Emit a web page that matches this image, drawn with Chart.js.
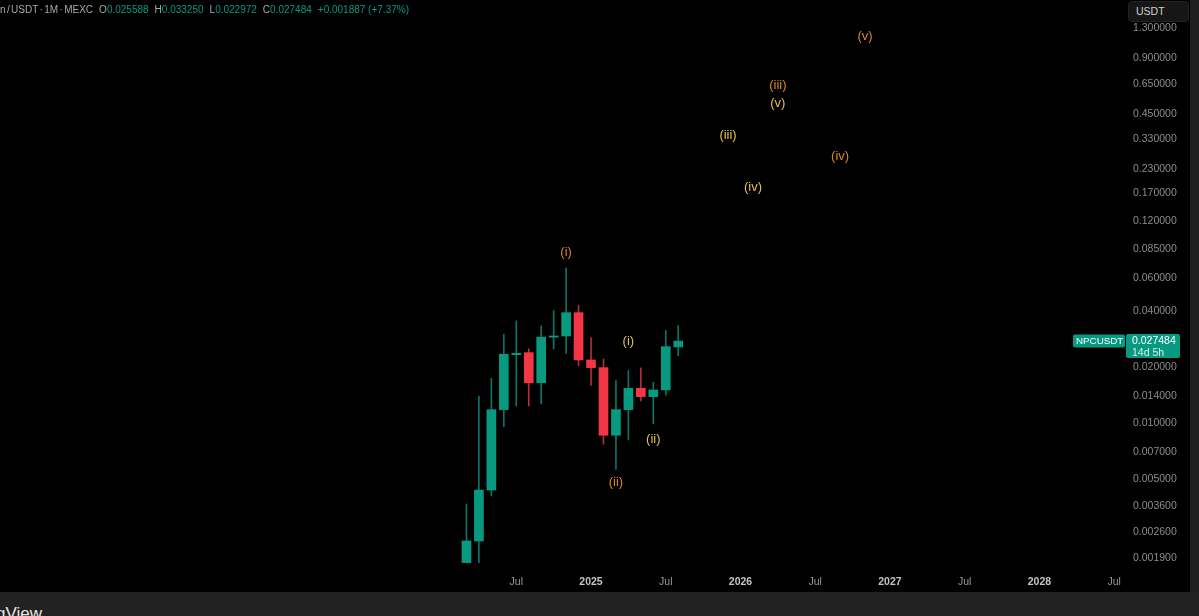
<!DOCTYPE html>
<html>
<head>
<meta charset="utf-8">
<style>
  html, body { margin: 0; padding: 0; background: #000; overflow: hidden; }
  body { width: 1199px; height: 616px; position: relative; font-family: "Liberation Sans", sans-serif; }
  #wrap { position: absolute; left: 0; top: 0; width: 1190px; height: 592px; }
  #side { position: absolute; left: 1190px; top: 0; width: 9px; height: 616px; background: #1e1e1e; }
  #foot { position: absolute; left: 0; top: 592px; width: 1199px; height: 24px; background: #222; overflow: hidden; }
  #brand { position: absolute; right: 1157px; top: 12px; font-size: 17px; font-weight: 400; color: #e6e6e6; white-space: nowrap; line-height: 20px; }
  #head { position: absolute; left: 0; top: 3px; font-size: 10px; line-height: 13px; color: #a8a8a8; white-space: nowrap; }
  #head span { word-spacing: -1.4px; }
  #head b { font-weight: 400; color: #089981; }
  #head i { font-style: normal; margin-left: 6px; }
  #unit { position: absolute; left: 1128px; top: 1px; width: 52px; height: 19px; padding-left: 7px; background: #161616; border: 1px solid #222; border-radius: 4px; font-size: 10.5px; line-height: 19px; color: #d0d0d0; }
</style>
</head>
<body>
<div id="wrap"><canvas id="priceChart"></canvas></div>
<div id="side"></div>
<div id="foot"><span id="brand">TradingView</span></div>
<div id="head"><span>n / USDT · 1M · MEXC</span><i>O<b>0.025588</b></i><i>H<b>0.033250</b></i><i>L<b>0.022972</b></i><i>C<b>0.027484</b></i><i><b>+0.001887 (+7.37%)</b></i></div>
<div id="unit">USDT</div>
<script src="https://cdn.jsdelivr.net/npm/chart.js@4/dist/chart.umd.min.js"></script>
<script>
// months counted from Jan 2024 = 0
const months = [2, 3, 4, 5, 6, 7, 8, 9, 10, 11, 12, 13, 14, 15, 16, 17, 18, 19];
const opens = [0.001796, 0.002345, 0.00439, 0.01182, 0.02327, 0.02385, 0.01648, 0.02886, 0.02928, 0.03902, 0.02179, 0.01983, 0.00862, 0.01182, 0.01537, 0.01387, 0.01506, 0.025588];
const closes = [0.002345, 0.00439, 0.01182, 0.02336, 0.02365, 0.01648, 0.02886, 0.02928, 0.03902, 0.02179, 0.01983, 0.00862, 0.01182, 0.01537, 0.01387, 0.01506, 0.02567, 0.027484];
const highs = [0.0037, 0.01398, 0.01738, 0.03001, 0.03522, 0.02500, 0.03312, 0.04000, 0.06765, 0.04272, 0.02869, 0.02206, 0.01689, 0.0191, 0.01975, 0.01655, 0.03139, 0.03325];
const lows = [0.001796, 0.001796, 0.00408, 0.00959, 0.01237, 0.01237, 0.01267, 0.02495, 0.02365, 0.02032, 0.01595, 0.00771, 0.00566, 0.00814, 0.01315, 0.00995, 0.0141, 0.022972];

const yTicks = [1.3, 0.9, 0.65, 0.45, 0.33, 0.23, 0.17, 0.12, 0.085, 0.06, 0.04, 0.02, 0.014, 0.01, 0.007, 0.005, 0.0036, 0.0026, 0.0019];
const xTickMonths = [6, 12, 18, 24, 30, 36, 42, 48, 54];
const xTickLabels = ["Jul", "2025", "Jul", "2026", "Jul", "2027", "Jul", "2028", "Jul"];

// wave counts
const orangeText = ["(i)", "(ii)", "(iii)", "(iv)", "(v)"];
const orangeMonths = [10, 14, 27, 32, 34];
const orangePrices = [0.0824, 0.00485, 0.644, 0.2687, 1.178];
const yellowText = ["(i)", "(ii)", "(iii)", "(iv)", "(v)"];
const yellowMonths = [15, 17, 23, 25, 27];
const yellowPrices = [0.02752, 0.00814, 0.348, 0.1835, 0.516];

const GREEN = "#089981";
const RED = "#f23645";
const WICK_GREEN = "#0a7564";
const WICK_RED = "#b02f3c";
const FONT = '"Liberation Sans", sans-serif';

const candleColors = opens.map((o, i) => (closes[i] >= o ? GREEN : RED));
const wickColors = opens.map((o, i) => (closes[i] >= o ? WICK_GREEN : WICK_RED));

// wave labels and the last price badge
const overlayPlugin = {
  id: "overlay",
  afterDatasetsDraw(chart) {
    const { ctx, scales } = chart;
    const x = scales.x;
    const y = scales.y;
    ctx.save();
    ctx.font = "13px " + FONT;
    ctx.textAlign = "center";
    ctx.textBaseline = "middle";
    ctx.fillStyle = "#d9862b";
    orangeText.forEach((t, i) => {
      ctx.fillText(t, x.getPixelForValue(orangeMonths[i]), y.getPixelForValue(orangePrices[i]));
    });
    ctx.fillStyle = "#e3c04f";
    yellowText.forEach((t, i) => {
      ctx.fillText(t, x.getPixelForValue(yellowMonths[i]), y.getPixelForValue(yellowPrices[i]));
    });

    const last = closes[closes.length - 1];
    const py = y.getPixelForValue(last);
    ctx.fillStyle = GREEN;
    ctx.beginPath();
    ctx.roundRect(1073, py - 6.5, 52, 13, 2);
    ctx.fill();
    ctx.beginPath();
    ctx.roundRect(1126, py - 7, 54, 24, 2);
    ctx.fill();
    ctx.textAlign = "left";
    ctx.fillStyle = "#ffffff";
    ctx.font = "9.8px " + FONT;
    ctx.fillText("NPCUSDT", 1076, py);
    ctx.font = "10.5px " + FONT;
    ctx.fillText(last.toFixed(6), 1132, py);
    ctx.fillStyle = "#d8efe9";
    ctx.fillText("14d 5h", 1132, py + 12);
    ctx.restore();
  },
};

new Chart(document.getElementById("priceChart").getContext("2d"), {
  type: "bar",
  data: {
    datasets: [
      {
        label: "Wick",
        data: months.map((m, i) => ({ x: m, y: [lows[i], highs[i]] })),
        backgroundColor: wickColors,
        barThickness: 1,
        grouped: false,
        order: 2,
      },
      {
        label: "Body",
        data: months.map((m, i) => ({ x: m, y: [opens[i], closes[i]] })),
        backgroundColor: candleColors,
        barThickness: 9,
        grouped: false,
        order: 1,
      },
    ],
  },
  options: {
    responsive: true,
    maintainAspectRatio: false,
    animation: false,
    layout: { padding: 0 },
    plugins: {
      legend: { display: false },
      tooltip: { enabled: false },
    },
    scales: {
      x: {
        type: "linear",
        offset: false,
        min: -35.45,
        max: 54.95,
        grid: { display: false },
        border: { display: false },
        afterBuildTicks: (scale) => {
          scale.ticks = xTickMonths.map((v) => ({ value: v }));
        },
        afterFit: (scale) => {
          scale.height = 22;
          scale.paddingLeft = 0;
          scale.paddingRight = 0;
        },
        ticks: {
          autoSkip: false,
          maxRotation: 0,
          padding: -2,
          color: (c) => (c.index % 2 ? "#c4c4c4" : "#9a9a9a"),
          font: (c) => ({ family: FONT, size: 10.5, weight: c.index % 2 ? "700" : "400" }),
          callback: (v) => xTickLabels[xTickMonths.indexOf(v)],
        },
      },
      y: {
        type: "logarithmic",
        position: "right",
        min: 0.00164,
        max: 1.835,
        grid: { display: false },
        border: { display: false },
        afterBuildTicks: (scale) => {
          scale.ticks = yTicks.map((v) => ({ value: v }));
        },
        afterFit: (scale) => {
          scale.width = 64;
          scale.paddingTop = 0;
          scale.paddingBottom = 0;
        },
        ticks: {
          autoSkip: false,
          padding: -1,
          color: "#8c8c8c",
          font: { family: FONT, size: 10.5 },
          callback: (v) => Number(v).toFixed(6),
        },
      },
    },
  },
  plugins: [overlayPlugin],
});
</script>
</body>
</html>
